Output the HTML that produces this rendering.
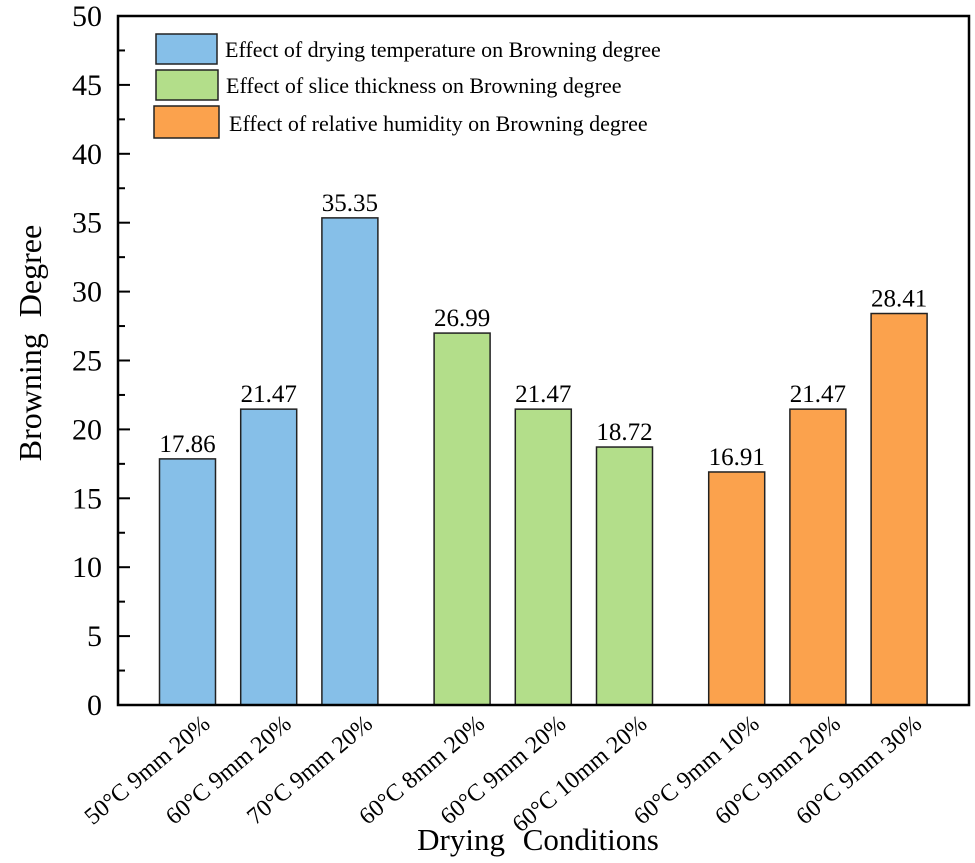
<!DOCTYPE html>
<html><head><meta charset="utf-8"><style>
html,body{margin:0;padding:0;background:#fff}
svg{display:block;font-family:"Liberation Serif",serif}
</style></head><body>
<svg id="chart" width="975" height="863" viewBox="0 0 975 863" xmlns="http://www.w3.org/2000/svg">
<g id="plot"></g>
<text transform="translate(41,343) rotate(-90)" text-anchor="middle" font-size="32" word-spacing="8">Browning  Degree</text>
<text x="538" y="850" text-anchor="middle" font-size="31" word-spacing="10">Drying  Conditions</text>
<g>
<rect x="156" y="34" width="61" height="30" fill="#86bfe8" stroke="#222" stroke-width="1.5"/>
<text x="225" y="57" font-size="22">Effect of drying temperature on Browning degree</text>
<rect x="156" y="70" width="62" height="30" fill="#b3de8a" stroke="#222" stroke-width="1.5"/>
<text x="226" y="93" font-size="22">Effect of slice thickness on Browning degree</text>
<rect x="154" y="106" width="65" height="32" fill="#fba24d" stroke="#222" stroke-width="1.5"/>
<text x="229" y="131" font-size="22">Effect of relative humidity on Browning degree</text>
</g>
</svg>
<script>
const categories = ["50°C 9mm 20%","60°C 9mm 20%","70°C 9mm 20%","60°C 8mm 20%","60°C 9mm 20%","60°C 10mm 20%","60°C 9mm 10%","60°C 9mm 20%","60°C 9mm 30%"];
const values = [17.86,21.47,35.35,26.99,21.47,18.72,16.91,21.47,28.41];
const valueLabels = ["17.86","21.47","35.35","26.99","21.47","18.72","16.91","21.47","28.41"];
const groups = [0,0,0,1,1,1,2,2,2];
const groupColors = ["#86bfe8","#b3de8a","#fba24d"];
const yTicks = [0,5,10,15,20,25,30,35,40,45,50];

const NS="http://www.w3.org/2000/svg";
const L=118,R=969,T=16,B=705;
function y(v){return B-(v/50)*(B-T);}
function xc(i){return 187.5+i*81.2+groups[i]*31;}
const g=document.getElementById('plot');
function mk(t,a){const e=document.createElementNS(NS,t);for(const k in a)e.setAttribute(k,a[k]);g.appendChild(e);return e;}
values.forEach((v,i)=>{
  const r=mk('rect',{x:xc(i)-28,y:y(v),width:56,height:B-y(v),fill:groupColors[groups[i]],stroke:'#222','stroke-width':1.5});
  
  
  const t=mk('text',{x:xc(i),y:y(v)-7,'text-anchor':'middle','font-size':25});
  t.textContent=valueLabels[i];
  
  
  const c=mk('text',{transform:`translate(${xc(i)+24},${B+21}) rotate(-40)`,'text-anchor':'end','font-size':24});
  c.textContent=categories[i];
  
  
});
yTicks.forEach((v,i)=>{
  const l=mk('line',{x1:L,x2:L+12,y1:y(v),y2:y(v),stroke:'#000','stroke-width':2});
  
  
  if(i<yTicks.length-1){
    const m=mk('line',{x1:L,x2:L+7,y1:y(v+2.5),y2:y(v+2.5),stroke:'#000','stroke-width':2});
    
    
  }
  const t=mk('text',{x:102,y:y(v)+10,'text-anchor':'end','font-size':30});
  t.textContent=String(v);
  
  
});
const f=mk('rect',{x:L,y:T,width:R-L,height:B-T,fill:'none',stroke:'#000','stroke-width':2.5});


</script>
</body></html>
